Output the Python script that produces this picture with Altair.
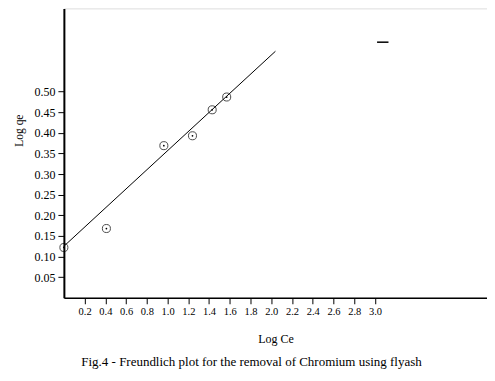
import altair as alt
import pandas as pd

# data
log_ce = [0.0, 0.41, 0.964, 1.24, 1.43, 1.57]
log_qe = [0.122, 0.168, 0.369, 0.393, 0.456, 0.487]
fit_x = [0.0, 2.04]
fit_y = [0.125, 0.598]
mark_x = [3.02]
mark_x2 = [3.13]
mark_y = [0.62]
x_ticks = [0.2, 0.4, 0.6, 0.8, 1.0, 1.2, 1.4, 1.6, 1.8, 2.0, 2.2, 2.4, 2.6, 2.8, 3.0]
y_ticks = [0.05, 0.10, 0.15, 0.20, 0.25, 0.30, 0.35, 0.40, 0.45, 0.50]

pts = pd.DataFrame({"x": log_ce, "y": log_qe})
fit = pd.DataFrame({"x": fit_x, "y": fit_y})
dash = pd.DataFrame({"x": mark_x, "x2": mark_x2, "y": mark_y})

FONT = "Liberation Serif"

xs = alt.Scale(domain=[0, 4.08], nice=False, zero=False)
ys = alt.Scale(domain=[0, 0.702], nice=False, zero=False)

x_axis = alt.Axis(values=x_ticks, tickCount=40, format=".1f", grid=False, title="Log Ce",
                  titleFont=FONT, titleFontSize=12, titleFontWeight="normal",
                  titleX=212, titleY=41, titleAlign="center", titleBaseline="middle",
                  labelFont=FONT, labelFontSize=10.5, labelColor="black",
                  labelOverlap=False, labelBound=False, labelFlush=False,
                  tickColor="black", tickSize=6, labelPadding=3,
                  domainColor="black", domainWidth=1.5)
y_axis = alt.Axis(values=y_ticks, tickCount=40, format=".2f", grid=False, title="Log qe",
                  titleFont=FONT, titleFontSize=11.5, titleFontWeight="normal",
                  titleX=-44, titleY=122, titleAngle=-90, titleAlign="center",
                  titleBaseline="middle",
                  labelFont=FONT, labelFontSize=12, labelColor="black",
                  labelOverlap=False, labelBound=False, labelFlush=False,
                  tickColor="black", tickSize=6, labelPadding=3,
                  domainColor="black", domainWidth=2)

line = alt.Chart(fit).mark_line(color="black", strokeWidth=1).encode(
    x=alt.X("x:Q", scale=xs, axis=x_axis),
    y=alt.Y("y:Q", scale=ys, axis=y_axis),
)
circles = alt.Chart(pts).mark_point(shape="circle", filled=False, color="black",
                                    size=65, strokeWidth=1).encode(
    x=alt.X("x:Q", scale=xs, axis=x_axis), y=alt.Y("y:Q", scale=ys, axis=y_axis))
dots = alt.Chart(pts).mark_point(shape="circle", filled=True, color="black",
                                 size=3, opacity=1).encode(
    x=alt.X("x:Q", scale=xs, axis=x_axis), y=alt.Y("y:Q", scale=ys, axis=y_axis))
dash_rule = alt.Chart(dash).mark_rule(color="black", strokeWidth=1.5).encode(
    x=alt.X("x:Q", scale=xs, axis=x_axis), x2="x2:Q",
    y=alt.Y("y:Q", scale=ys, axis=y_axis))
caption = alt.Chart(pd.DataFrame({"t": [0]})).mark_text(
    font=FONT, fontSize=13, color="black", align="center", baseline="middle").encode(
    x=alt.value(188), y=alt.value(354),
    text=alt.value("Fig.4 - Freundlich plot for the removal of Chromium using flyash"))

chart = alt.layer(line, circles, dots, dash_rule, caption).properties(
    width=424, height=290,
    autosize=alt.AutoSizeParams(type="none"),
    padding={"left": 56, "top": 0, "right": 0, "bottom": 73},
).configure_view(stroke=None).configure(background="white")

chart.save("out.html", embed_options={"renderer": "svg", "actions": False})
